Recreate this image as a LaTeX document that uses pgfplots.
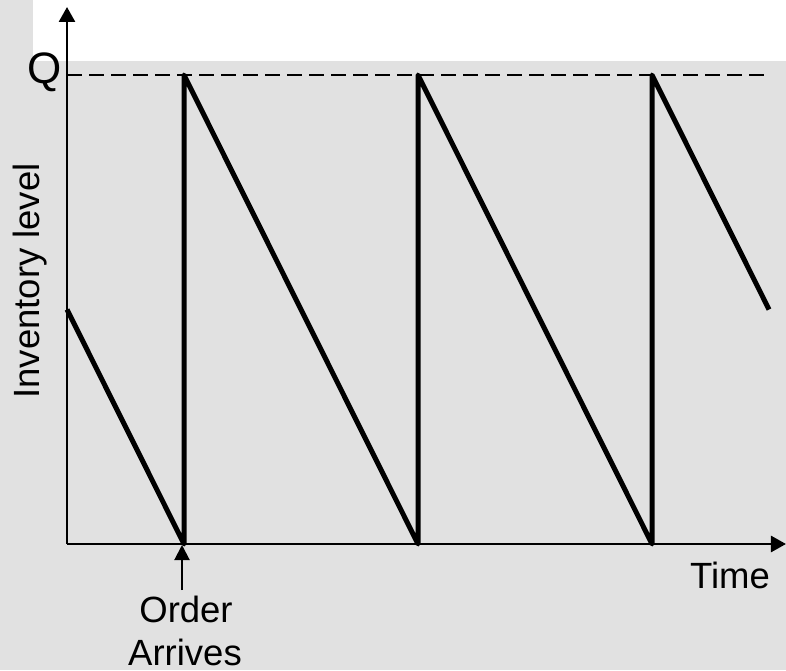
\documentclass[border=0pt]{standalone}
\usepackage{pgfplots}
\pgfplotsset{compat=1.18}
\usepackage{fontspec}
\setmainfont{Liberation Sans}
\usetikzlibrary{arrows.meta}
\definecolor{bggray}{RGB}{225,225,225}
\begin{document}
\fontsize{10.95pt}{13pt}\selectfont
\begin{tikzpicture}
\begin{scope}[x=0.3pt,y=-0.3pt]
  \fill[bggray] (0,0) rectangle (786,670);
  \fill[white] (33,0) rectangle (786,61);
\end{scope}
\begin{axis}[
  at={(20.1pt,-163.2pt)}, anchor=south west,
  scale only axis, width=215.7pt, height=161.1pt,
  xmin=0, xmax=6.145, ymin=0, ymax=1.145,
  axis lines=left,
  axis line style={line width=0.8pt, -{Triangle[width=4.8pt,length=4.5pt]}},
  xtick=\empty, ytick=\empty,
  clip=false,
]
\draw[line width=0.6pt, dash pattern=on 4.5pt off 2.1pt] (axis cs:0,1) -- (axis cs:6,1);
\addplot[black, line width=1.5pt, line join=round, mark=none] coordinates {
  (0,0.5) (1,0) (1,1) (3,0) (3,1) (5,0) (5,1) (6,0.5)
};
\end{axis}
\begin{scope}[x=0.3pt,y=-0.3pt]
  \draw[line width=0.6pt, -{Triangle[width=4.5pt,length=4.5pt]}] (182,590) -- (182,545);
  \node[anchor=base, inner sep=0pt, font=\fontsize{13.2pt}{15pt}\selectfont] at (45,84) {Q};
  \node[anchor=base, inner sep=0pt] at (730,588) {Time};
  \node[anchor=base, inner sep=0pt] at (186,622) {Order};
  \node[anchor=base, inner sep=0pt] at (185,665) {Arrives};
  \node[anchor=base, inner sep=0pt, rotate=90] at (39,281) {Inventory level};
  \pgfresetboundingbox
  \path[use as bounding box] (0,0) rectangle (786,670);
\end{scope}
\end{tikzpicture}
\end{document}
